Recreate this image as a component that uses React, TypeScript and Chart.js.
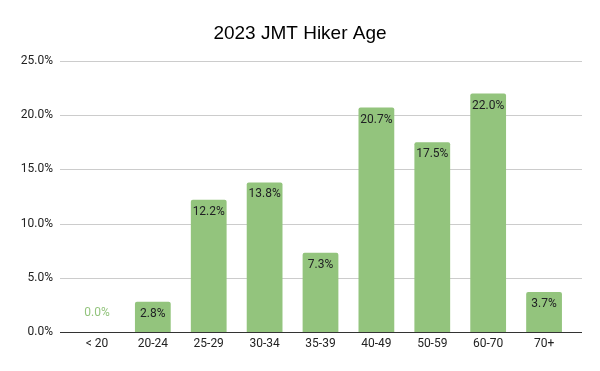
import React, { useEffect, useRef } from "react";
import { Chart, registerables } from "chart.js";

Chart.register(...registerables);

const chartTitle = "2023 JMT Hiker Age";
const categories = ["< 20", "20-24", "25-29", "30-34", "35-39", "40-49", "50-59", "60-70", "70+"];
const hikerShare = [0.0, 2.8, 12.2, 13.8, 7.3, 20.7, 17.5, 22.0, 3.7];
const yTicks = [0, 5, 10, 15, 20, 25];

const BAR_COLOR = "#93c47d";

const gridPlugin = {
  id: "sheetGrid",
  beforeDatasetsDraw(chart: any) {
    const { ctx, chartArea, scales } = chart;
    const y = scales.y;
    ctx.save();
    ctx.strokeStyle = "#cccccc";
    ctx.lineWidth = 1;
    for (const t of yTicks) {
      if (t === 0) continue;
      const py = Math.round(y.getPixelForValue(t)) + 0.5;
      ctx.beginPath();
      ctx.moveTo(chartArea.left - 9, py);
      ctx.lineTo(chartArea.right + 10, py);
      ctx.stroke();
    }
    ctx.restore();
  },
  afterDatasetsDraw(chart: any) {
    const { ctx, chartArea, scales, width } = chart;
    const y = scales.y;
    ctx.save();
    ctx.strokeStyle = "#333333";
    ctx.lineWidth = 1;
    const py = Math.round(y.getPixelForValue(0)) + 0.5;
    ctx.beginPath();
    ctx.moveTo(chartArea.left - 9, py);
    ctx.lineTo(chartArea.right + 10, py);
    ctx.stroke();

    const meta = chart.getDatasetMeta(0);
    ctx.font = "12px Roboto";
    ctx.textAlign = "center";
    ctx.textBaseline = "middle";
    meta.data.forEach((bar: any, i: number) => {
      const v = hikerShare[i];
      const text = v.toFixed(1) + "%";
      if (v === 0) {
        ctx.fillStyle = BAR_COLOR;
        ctx.fillText(text, bar.x, bar.y - 19);
      } else {
        ctx.fillStyle = "#202124";
        ctx.fillText(text, bar.x, bar.y + 12);
      }
    });

    ctx.font = '19px "Liberation Sans", Arial, sans-serif';
    ctx.fillStyle = "#000000";
    ctx.textAlign = "center";
    ctx.textBaseline = "alphabetic";
    ctx.fillText(chartTitle, width / 2, 39);
    ctx.restore();
  },
};

export default function App() {
  const ref = useRef<HTMLCanvasElement | null>(null);
  useEffect(() => {
    document.body.style.margin = "0";
    if (!ref.current) return;
    const chart = new Chart(ref.current, {
      type: "bar",
      data: {
        labels: categories,
        datasets: [
          {
            data: hikerShare,
            backgroundColor: BAR_COLOR,
            borderRadius: 2,
            borderSkipped: "bottom",
            categoryPercentage: 1,
            barPercentage: 0.64,
          },
        ],
      },
      options: {
        animation: false,
        responsive: false,
        maintainAspectRatio: false,
        layout: { padding: { left: 0, right: 28, top: 61, bottom: 0 } },
        plugins: {
          legend: { display: false },
          tooltip: { enabled: false },
          title: { display: false },
        },
        scales: {
          x: {
            grid: { display: false, drawTicks: false },
            border: { display: false },
            ticks: {
              color: "#222222",
              font: { family: "Roboto", size: 12 },
              padding: 5,
              maxRotation: 0,
              autoSkip: false,
            },
            afterFit(scale: any) {
              scale.height = 39;
            },
          },
          y: {
            min: 0,
            max: 25,
            grid: { display: false, drawTicks: false },
            border: { display: false },
            ticks: {
              stepSize: 5,
              color: "#222222",
              font: { family: "Roboto", size: 12 },
              padding: 16,
              callback: (v: any) => Number(v).toFixed(1) + "%",
            },
            afterFit(scale: any) {
              scale.width = 69;
            },
          },
        },
      },
      plugins: [gridPlugin],
    });
    return () => chart.destroy();
  }, []);
  return (
    <div style={{ position: "absolute", left: 0, top: 0, width: 600, height: 371 }}>
      <canvas ref={ref} width={600} height={371} style={{ width: 600, height: 371 }} />
    </div>
  );
}
